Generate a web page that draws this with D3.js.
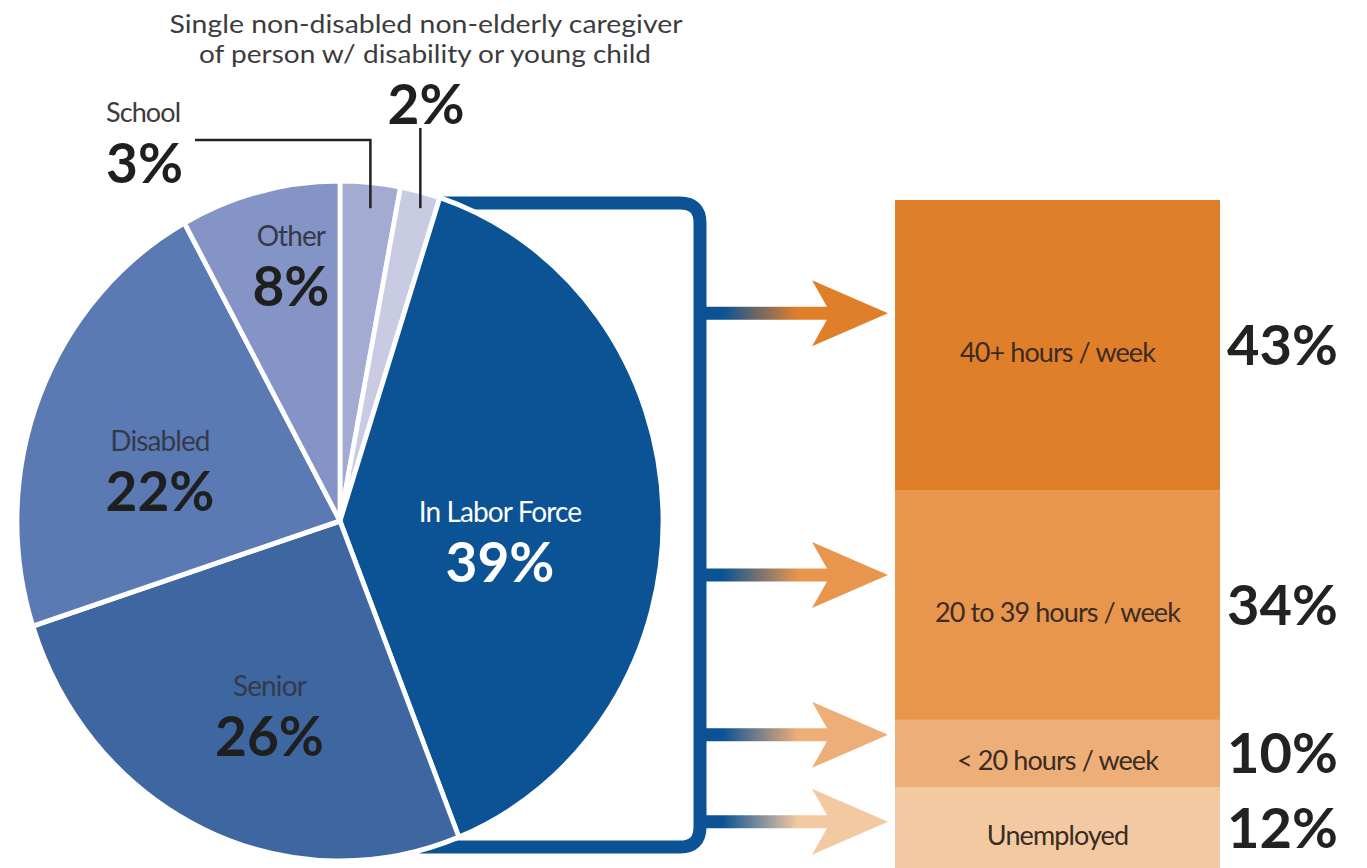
<!DOCTYPE html>
<html><head><meta charset="utf-8">
<script src="https://cdn.jsdelivr.net/npm/d3@7"></script>
<style>
body{margin:0;background:#fff;}
svg{display:block;}
text{font-family:Lato,"Open Sans","DejaVu Sans",sans-serif;}
</style>
</head><body>
<svg id="c" width="1367" height="868"></svg>
<script>
// ---- data ----
const categories = ["School", "Caregiver", "In Labor Force", "Senior", "Disabled", "Other"];
const shares = [3, 2, 39, 26, 22, 8];
const caregiverLines = ["Single non-disabled non-elderly caregiver", "of person w/ disability or young child"];
const laborCategories = ["40+ hours / week", "20 to 39 hours / week", "< 20 hours / week", "Unemployed"];
const laborShares = [43, 34, 10, 12];

// ---- styles ----
const sliceColors = ["#a3abd3", "#c8cbe2", "#0b5394", "#3e66a1", "#5b7ab3", "#8594c6"];
const laborColors = ["#e07f2a", "#e8954d", "#eeae78", "#f3c9a2"];
const blue = "#0b5394";

const svg = d3.select("#c");

// ---- pie ----
const cx = 340, cy = 521, R = 340, sx = 0.95;
const pieData = categories.map((c, i) => ({ name: c, value: shares[i], color: sliceColors[i] }));
const arcs = d3.pie().sort(null).value(d => d.value)(pieData);
const arc = d3.arc().innerRadius(0).outerRadius(R);
const polar = (a, r) => [cx + sx * r * Math.sin(a), cy - r * Math.cos(a)];
const mid = d => (d.startAngle + d.endAngle) / 2;

// ---- bar scale ----
const barX0 = 895, barX1 = 1220, barTop = 200, barBottom = 868;
const yScale = d3.scaleLinear().domain([0, d3.sum(laborShares)]).range([barTop, barBottom]);
let cum = 0;
const segs = laborCategories.map((c, i) => {
  const s = { name: c, value: laborShares[i], color: laborColors[i], y0: yScale(cum), y1: yScale(cum + laborShares[i]) };
  cum += laborShares[i];
  s.cy = (s.y0 + s.y1) / 2;
  return s;
});

// ---- bracket ----
const brTop = barTop + 3, brBottom = 847, brX = 700, rr = 20;
svg.append("path")
  .attr("d", `M430,${brTop} H${brX - rr} Q${brX},${brTop} ${brX},${brTop + rr} V${brBottom - rr} Q${brX},${brBottom} ${brX - rr},${brBottom} H420`)
  .attr("fill", "none").attr("stroke", blue).attr("stroke-width", 13);

// pie on top of bracket
const gPie = svg.append("g").attr("transform", `translate(${cx},${cy}) scale(${sx},1)`);
gPie.selectAll("path").data(arcs).join("path")
  .attr("d", arc).attr("fill", d => d.data.color)
  .attr("stroke", "#fff").attr("stroke-width", 5).attr("stroke-linejoin", "round");

// ---- arrows ----
// arrow positions inside each segment, pushed apart if they would overlap
const arrowY = segs.map(s => s.y0 + 0.43 * (s.y1 - s.y0));
arrowY[0] = segs[0].y0 + 0.39 * (segs[0].y1 - segs[0].y0);
arrowY[1] = segs[1].y0 + 0.37 * (segs[1].y1 - segs[1].y0);
for (let i = arrowY.length - 1; i > 0; i--) {
  if (arrowY[i] - arrowY[i - 1] < 87) arrowY[i - 1] = arrowY[i] - 87;
}
const defs = svg.append("defs");
segs.forEach((s, i) => {
  const g = defs.append("linearGradient").attr("id", "ag" + i)
    .attr("gradientUnits", "userSpaceOnUse").attr("x1", brX).attr("x2", 888).attr("y1", 0).attr("y2", 0);
  g.append("stop").attr("offset", 0.12).attr("stop-color", blue);
  g.append("stop").attr("offset", 0.52).attr("stop-color", s.color);
});
svg.selectAll("path.arrow").data(segs).join("path").attr("class", "arrow")
  .attr("d", (s, i) => {
    const y = arrowY[i];
    return `M${brX},${y - 6.5} H827 L812,${y - 33} L888,${y} L812,${y + 33} L827,${y + 6.5} H${brX} Z`;
  })
  .attr("fill", (s, i) => `url(#ag${i})`);

// ---- stacked bar ----
svg.selectAll("rect.seg").data(segs).join("rect").attr("class", "seg")
  .attr("x", barX0).attr("width", barX1 - barX0)
  .attr("y", s => s.y0).attr("height", s => s.y1 - s.y0 + 0.5)
  .attr("fill", s => s.color);

svg.selectAll("text.segname").data(segs).join("text").attr("class", "segname")
  .attr("x", (barX0 + barX1) / 2).attr("y", s => s.cy + 17)
  .attr("text-anchor", "middle").attr("font-size", 27).attr("fill", "#3a2c22")
  .attr("letter-spacing", -0.9)
  .text(s => s.name);

svg.selectAll("text.segpct").data(segs).join("text").attr("class", "segpct")
  .attr("x", 1227).attr("y", s => s.cy + 20)
  .attr("font-size", 56).attr("font-weight", 700).attr("fill", "#222")
  .text(s => s.value + "%");

// ---- pie labels (inside) ----
const labelPlace = { "In Labor Force": { r: 0.5, da: 0.17 }, "Senior": { r: 0.62, da: -0.08 }, "Disabled": { r: 0.575, da: -0.129 }, "Other": { r: 0.76, da: 0.05 } };
const inside = arcs.filter(d => labelPlace[d.data.name]);
inside.forEach(d => {
  const p = labelPlace[d.data.name];
  const [x, y] = polar(mid(d) + p.da, p.r * R);
  const light = d.data.name === "In Labor Force";
  svg.append("text").attr("x", x).attr("y", y - 22).attr("text-anchor", "middle")
    .attr("font-size", 28).attr("letter-spacing", -0.9).attr("fill", light ? "#fff" : "#343a4a").text(d.data.name);
  svg.append("text").attr("x", x).attr("y", y + 38).attr("text-anchor", "middle")
    .attr("font-size", 55).attr("font-weight", 700).attr("fill", light ? "#fff" : "#1f1f1f").text(d.data.value + "%");
});

// ---- outside labels with leaders ----
const school = arcs[0], carer = arcs[1];
const [sxp] = polar(mid(school), R);
const [cxp] = polar(mid(carer), R);
const leadEnd = cy - 0.92 * R;
svg.append("path").attr("d", `M195,140 H${sxp} V${leadEnd}`).attr("fill", "none").attr("stroke", "#222").attr("stroke-width", 2.5);
svg.append("path").attr("d", `M${cxp},128 V${leadEnd}`).attr("fill", "none").attr("stroke", "#222").attr("stroke-width", 2.5);

svg.append("text").attr("x", 106).attr("y", 122).attr("font-size", 27).attr("letter-spacing", -0.9).attr("fill", "#3c3c3c").text(school.data.name);
svg.append("text").attr("x", 106).attr("y", 183).attr("font-size", 55).attr("font-weight", 700).attr("fill", "#1f1f1f").text(school.data.value + "%");

svg.append("text").attr("x", 426).attr("y", 33).attr("text-anchor", "middle").attr("font-size", 25)
  .attr("textLength", 513).attr("lengthAdjust", "spacingAndGlyphs").attr("fill", "#3c3c3c").text(caregiverLines[0]);
svg.append("text").attr("x", 425).attr("y", 63).attr("text-anchor", "middle").attr("font-size", 25)
  .attr("textLength", 452).attr("lengthAdjust", "spacingAndGlyphs").attr("fill", "#3c3c3c").text(caregiverLines[1]);
svg.append("text").attr("x", 426).attr("y", 124).attr("text-anchor", "middle").attr("font-size", 55)
  .attr("font-weight", 700).attr("fill", "#1f1f1f").text(carer.data.value + "%");
</script>
</body></html>
